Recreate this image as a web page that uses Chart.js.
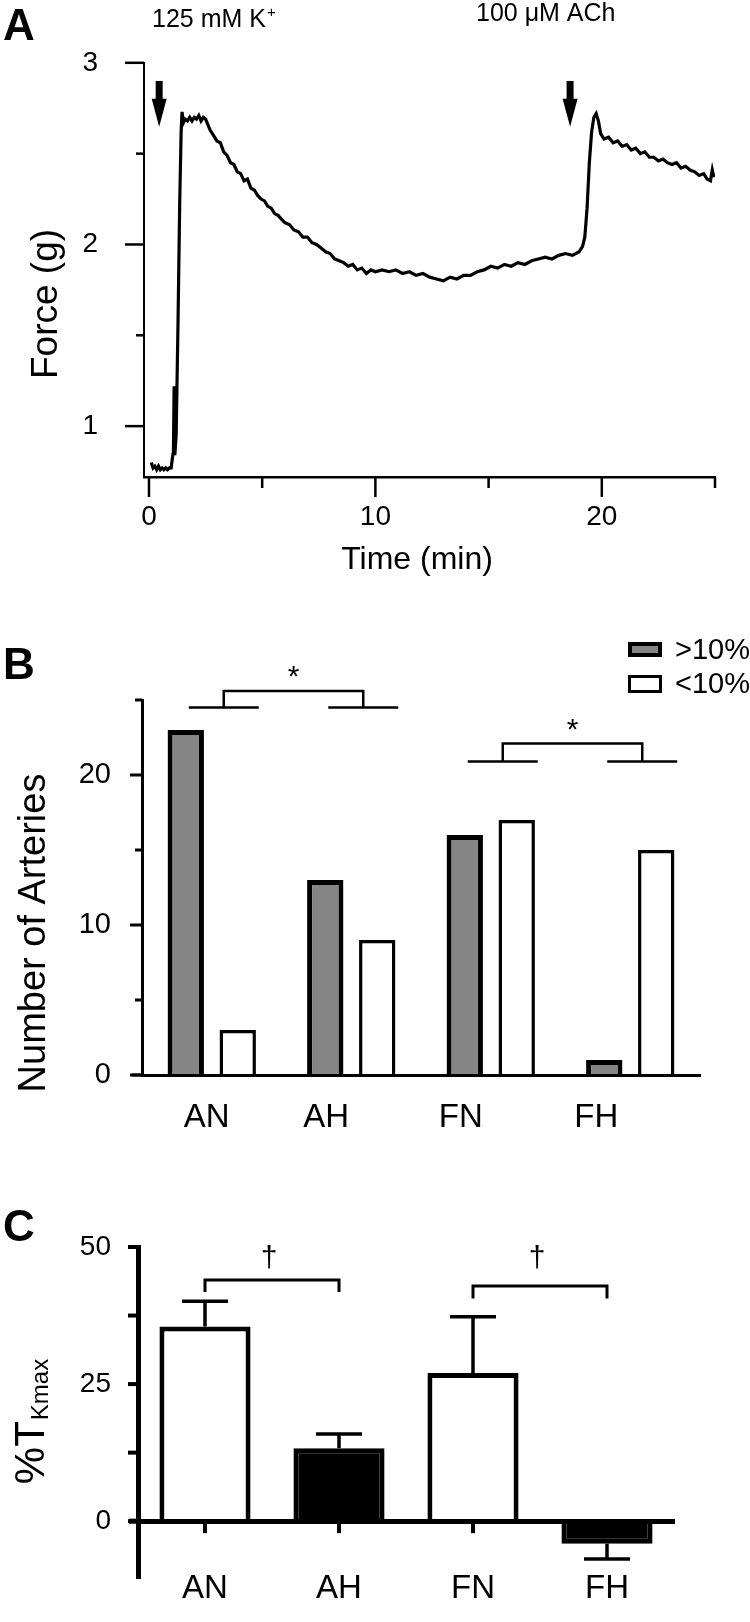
<!DOCTYPE html>
<html>
<head>
<meta charset="utf-8">
<script src="https://cdn.jsdelivr.net/npm/chart.js@4.4.1/dist/chart.umd.min.js"></script>
<style>
  html, body { margin: 0; padding: 0; background: #fff; }
  #wrap { position: relative; width: 750px; height: 1622px; overflow: hidden; }
  canvas { position: absolute; left: 0; }
</style>
</head>
<body>
<div id="wrap">
  <canvas id="chartA" width="750" height="600" style="top:0px"></canvas>
  <canvas id="chartB" width="750" height="540" style="top:600px"></canvas>
  <canvas id="chartC" width="750" height="482" style="top:1140px"></canvas>
</div>
<script>
// Panel A: force trace
const timeMin = [0.10,0.18,0.26,0.34,0.42,0.50,0.58,0.66,0.74,0.82,0.90,0.98,1.04,1.08,1.11,1.14,1.20,1.28,1.36,1.42,1.46,1.52,1.60,1.70,1.80,1.90,2.00,2.10,2.20,2.30,2.40,2.50,2.60,2.70,2.85,3.00,3.15,3.30,3.45,3.60,3.75,3.90,4.05,4.20,4.35,4.50,4.65,4.80,4.95,5.10,5.25,5.40,5.55,5.70,5.85,6.00,6.20,6.40,6.60,6.80,7.00,7.20,7.40,7.60,7.80,8.00,8.20,8.40,8.60,8.80,9.00,9.20,9.40,9.60,9.80,10.0,10.3,10.6,10.9,11.2,11.5,11.8,12.1,12.4,12.7,13.0,13.3,13.6,13.9,14.2,14.5,14.8,15.1,15.4,15.7,16.0,16.3,16.6,16.9,17.2,17.5,17.8,18.1,18.4,18.7,19.0,19.15,19.25,19.35,19.45,19.55,19.65,19.75,19.85,19.95,20.10,20.30,20.50,20.70,20.90,21.10,21.30,21.50,21.70,21.90,22.10,22.30,22.50,22.70,22.90,23.10,23.30,23.50,23.70,23.90,24.10,24.30,24.50,24.65,24.80,24.88,24.95];
const forceG = [0.80,0.77,0.78,0.76,0.78,0.76,0.77,0.76,0.77,0.76,0.77,0.77,0.83,0.86,1.22,0.84,0.95,1.55,2.25,2.62,2.73,2.67,2.69,2.68,2.70,2.68,2.70,2.69,2.71,2.68,2.70,2.69,2.66,2.63,2.60,2.57,2.56,2.51,2.49,2.45,2.44,2.40,2.39,2.35,2.36,2.31,2.30,2.27,2.25,2.24,2.21,2.20,2.17,2.16,2.14,2.12,2.11,2.08,2.07,2.04,2.04,2.01,2.00,1.98,1.96,1.95,1.92,1.91,1.90,1.88,1.89,1.86,1.87,1.84,1.86,1.85,1.86,1.85,1.86,1.84,1.85,1.83,1.84,1.82,1.81,1.80,1.82,1.81,1.83,1.83,1.85,1.86,1.88,1.87,1.89,1.88,1.90,1.89,1.91,1.92,1.93,1.92,1.94,1.95,1.94,1.96,1.99,2.04,2.20,2.45,2.62,2.70,2.72,2.68,2.61,2.58,2.59,2.56,2.57,2.54,2.55,2.52,2.53,2.50,2.51,2.48,2.48,2.46,2.47,2.45,2.44,2.45,2.42,2.43,2.41,2.40,2.38,2.39,2.36,2.35,2.41,2.37];
const aTicksX = [0, 5, 10, 15, 20, 25];
const aLabelsX = [0, 10, 20];
const aTicksY = [1, 1.5, 2, 2.5, 3];
const aLabelsY = [1, 2, 3];
const arrowTimes = [0.45, 18.6];

// Panel B: number of arteries
const groups = ["AN", "AH", "FN", "FH"];
const above10 = [23, 13, 16, 1];
const below10 = [3, 9, 17, 15];
const bTicksY = [0, 5, 10, 15, 20, 25];
const bLabelsY = [0, 10, 20];
const bBrackets = [{ from: 0, to: 1, base: 24.5, top: 25.6 }, { from: 2, to: 3, base: 20.9, top: 22.1 }];

// Panel C: %TKmax, mean and SEM
const cMean = [35.5, 13.3, 27.0, -4.1];
const cSem = [4.6, 2.6, 10.3, 2.8];
const cFill = ["#ffffff", "#000000", "#ffffff", "#000000"];
const cTicksY = [0, 12.5, 25, 37.5, 50];
const cLabelsY = [0, 25, 50];
const cBrackets = [{ from: 0, to: 1, drop: 41.8, top: 44.0 }, { from: 2, to: 3, drop: 40.6, top: 42.9 }];

const FONT = "'Liberation Sans', Arial, sans-serif";
Chart.defaults.font.family = FONT;
Chart.defaults.color = "#000";

function line(ctx, x1, y1, x2, y2) {
  ctx.beginPath(); ctx.moveTo(x1, y1); ctx.lineTo(x2, y2); ctx.stroke();
}

function drawArrow(ctx, x, yTop, yTip) {
  const headLen = 28;
  ctx.fillRect(x - 3.5, yTop, 7, yTip - headLen - yTop + 1);
  ctx.beginPath();
  ctx.moveTo(x - 7.5, yTip - headLen);
  ctx.lineTo(x + 7.5, yTip - headLen);
  ctx.lineTo(x, yTip);
  ctx.closePath();
  ctx.fill();
}

function vText(ctx, text, x, y, font) {
  ctx.save();
  ctx.translate(x, y);
  ctx.rotate(-Math.PI / 2);
  ctx.font = font;
  ctx.textAlign = "center";
  ctx.textBaseline = "alphabetic";
  ctx.fillText(text, 0, 0);
  ctx.restore();
}

const panelA = {
  id: "panelA",
  afterDraw(chart) {
    const { ctx, scales: { x, y } } = chart;
    ctx.save();
    ctx.fillStyle = "#000";
    ctx.strokeStyle = "#000";
    ctx.lineWidth = 2.5;
    aTicksY.forEach(v => {
      const p = y.getPixelForValue(v);
      line(ctx, y.right - (aLabelsY.includes(v) ? 19 : 8), p, y.right, p);
    });
    aTicksX.forEach(v => {
      const p = x.getPixelForValue(v);
      line(ctx, p, x.top, p, x.top + (aLabelsX.includes(v) ? 20 : 11));
    });
    arrowTimes.forEach(t => drawArrow(ctx, x.getPixelForValue(t), y.getPixelForValue(2.9), y.getPixelForValue(2.648)));

    ctx.textAlign = "left";
    ctx.textBaseline = "alphabetic";
    ctx.font = "bold 44px " + FONT;
    ctx.fillText("A", 3, 40);
    ctx.font = "25px " + FONT;
    ctx.fillText("125 mM K", 152, 27);
    const w = ctx.measureText("125 mM K").width;
    ctx.font = "15px " + FONT;
    ctx.fillText("+", 152 + w + 1, 17);
    ctx.font = "25px " + FONT;
    ctx.fillText("100 \u03bcM ACh", 476, 21);
    vText(ctx, "Force (g)", 57, 304, "37px " + FONT);
    ctx.textAlign = "center";
    ctx.font = "32px " + FONT;
    ctx.fillText("Time (min)", 417, 569);
    ctx.restore();
  }
};

const panelB = {
  id: "panelB",
  afterDraw(chart) {
    const { ctx, scales: { x, y } } = chart;
    ctx.save();
    ctx.fillStyle = "#000";
    ctx.strokeStyle = "#000";
    ctx.lineWidth = 3;
    bTicksY.forEach(v => {
      const p = y.getPixelForValue(v);
      line(ctx, y.right - (bLabelsY.includes(v) ? 12 : 7), p, y.right, p);
    });
    line(ctx, x.left - 10, y.getPixelForValue(0), x.left, y.getPixelForValue(0));

    // category labels
    const shift = [-5, -25, -30, -34];
    ctx.font = "33px " + FONT;
    ctx.textAlign = "center";
    ctx.textBaseline = "alphabetic";
    groups.forEach((g, i) => ctx.fillText(g, x.getPixelForValue(i) + shift[i], 527));

    // significance brackets
    ctx.lineWidth = 2.5;
    bBrackets.forEach(b => {
      const xa = x.getPixelForValue(b.from) + 12, xb = x.getPixelForValue(b.to) + 12;
      const yb = y.getPixelForValue(b.base), yt = y.getPixelForValue(b.top);
      line(ctx, xa - 35, yb, xa + 35, yb);
      line(ctx, xb - 35, yb, xb + 35, yb);
      ctx.beginPath();
      ctx.moveTo(xa, yb); ctx.lineTo(xa, yt); ctx.lineTo(xb, yt); ctx.lineTo(xb, yb);
      ctx.stroke();
      ctx.font = "30px " + FONT;
      ctx.fillText("*", (xa + xb) / 2, yt - 22 + 0.58 * 30);
    });

    // legend
    const ds = chart.data.datasets;
    const boxes = [[628, 42, 34, 15], [628, 75, 34, 18]];
    ds.forEach((d, i) => {
      const [bx, by, bw, bh] = boxes[i];
      ctx.fillStyle = d.backgroundColor;
      ctx.fillRect(bx, by, bw, bh);
      ctx.lineWidth = i === 0 ? 4 : 3;
      ctx.strokeRect(bx + ctx.lineWidth / 2, by + ctx.lineWidth / 2, bw - ctx.lineWidth, bh - ctx.lineWidth);
      ctx.fillStyle = "#000";
      ctx.font = "29px " + FONT;
      ctx.textAlign = "left";
      ctx.textBaseline = "middle";
      ctx.fillText(d.label, 675, by + bh / 2 + 1);
    });

    ctx.textAlign = "left";
    ctx.textBaseline = "alphabetic";
    ctx.font = "bold 44px " + FONT;
    ctx.fillText("B", 3, 79);
    vText(ctx, "Number of Arteries", 45, 333, "38px " + FONT);
    ctx.restore();
  }
};

const panelC = {
  id: "panelC",
  afterDraw(chart) {
    const { ctx, scales: { x, y } } = chart;
    const y0 = y.getPixelForValue(0);
    ctx.save();
    ctx.fillStyle = "#000";
    ctx.strokeStyle = "#000";
    ctx.lineWidth = 4;
    cTicksY.forEach(v => {
      const p = y.getPixelForValue(v);
      line(ctx, y.right - 10, p, y.right, p);
    });
    groups.forEach((g, i) => {
      const p = x.getPixelForValue(i);
      line(ctx, p, y0, p, y0 + 12);
    });
    ctx.lineWidth = 5;
    line(ctx, x.left - 9, y0, x.left, y0);

    // error bars (one-sided)
    ctx.lineWidth = 3.5;
    cMean.forEach((m, i) => {
      const px = x.getPixelForValue(i);
      const end = m + Math.sign(m) * cSem[i];
      const pe = y.getPixelForValue(end);
      line(ctx, px, y.getPixelForValue(m), px, pe);
      line(ctx, px - 23, pe, px + 23, pe);
    });

    // brackets with daggers
    ctx.lineWidth = 3;
    ctx.textAlign = "center";
    ctx.textBaseline = "alphabetic";
    cBrackets.forEach(b => {
      const xa = x.getPixelForValue(b.from), xb = x.getPixelForValue(b.to);
      const yd = y.getPixelForValue(b.drop), yt = y.getPixelForValue(b.top);
      ctx.beginPath();
      ctx.moveTo(xa, yd); ctx.lineTo(xa, yt); ctx.lineTo(xb, yt); ctx.lineTo(xb, yd);
      ctx.stroke();
      ctx.font = "30px " + FONT;
      ctx.fillText("\u2020", (xa + xb) / 2 - 3, y.getPixelForValue(46.4));
    });

    ctx.textAlign = "left";
    ctx.font = "bold 44px " + FONT;
    ctx.fillText("C", 3, 101);

    // %T with subscript Kmax, rotated
    ctx.save();
    ctx.translate(44, 282);
    ctx.rotate(-Math.PI / 2);
    ctx.font = "42px " + FONT;
    const w1 = ctx.measureText("%T").width;
    ctx.font = "24px " + FONT;
    const w2 = ctx.measureText("Kmax").width;
    const start = -(w1 + w2) / 2;
    ctx.font = "42px " + FONT;
    ctx.fillText("%T", start, 0);
    ctx.font = "24px " + FONT;
    ctx.fillText("Kmax", start + w1 + 1, 4);
    ctx.restore();
    ctx.restore();
  }
};

// Panel A
new Chart(document.getElementById("chartA"), {
  type: "line",
  data: {
    datasets: [{
      data: timeMin.map((t, i) => ({ x: t, y: forceG[i] })),
      borderColor: "#000",
      borderWidth: 3.2,
      pointRadius: 0,
      tension: 0,
      fill: false
    }]
  },
  options: {
    responsive: false,
    animation: false,
    events: [],
    layout: { padding: { left: 0, top: 23, right: 35, bottom: 0 }, autoPadding: false },
    plugins: { legend: { display: false }, tooltip: { enabled: false } },
    scales: {
      x: {
        type: "linear", min: -0.22, max: 25,
        grid: { display: false, drawTicks: false },
        border: { display: true, width: 2.5, color: "#000" },
        afterBuildTicks: s => { s.ticks = aTicksX.map(v => ({ value: v })); },
        afterFit: s => { s.height = 123; },
        ticks: { padding: 23, maxRotation: 0, autoSkip: false, font: { size: 28 },
          callback: v => aLabelsX.includes(v) ? String(v) : "" }
      },
      y: {
        min: 0.72, max: 3,
        grid: { display: false, drawTicks: false },
        border: { display: true, width: 2, color: "#000" },
        afterBuildTicks: s => { s.ticks = aTicksY.map(v => ({ value: v })); },
        afterFit: s => { s.width = 144; },
        ticks: { padding: 46, autoSkip: false, font: { size: 28 },
          callback: v => aLabelsY.includes(v) ? String(v) : "" }
      }
    }
  },
  plugins: [panelA]
});

// Panel B
new Chart(document.getElementById("chartB"), {
  type: "bar",
  data: {
    labels: groups,
    datasets: [
      { label: ">10%", data: above10, backgroundColor: "#858585", borderColor: "#000", borderWidth: 5,
        barPercentage: 0.7, categoryPercentage: 0.745 },
      { label: "<10%", data: below10, backgroundColor: "#ffffff", borderColor: "#000", borderWidth: 3.5,
        barPercentage: 0.7, categoryPercentage: 0.745 }
    ]
  },
  options: {
    responsive: false,
    animation: false,
    events: [],
    layout: { padding: { left: 0, top: 100, right: 50, bottom: 0 }, autoPadding: false },
    plugins: { legend: { display: false }, tooltip: { enabled: false } },
    scales: {
      x: {
        grid: { display: false, drawTicks: false },
        border: { display: true, width: 3, color: "#000", z: 1 },
        ticks: { display: false },
        afterFit: s => { s.height = 65; }
      },
      y: {
        min: 0, max: 25,
        grid: { display: false, drawTicks: false },
        border: { display: true, width: 3, color: "#000" },
        afterBuildTicks: s => { s.ticks = bTicksY.map(v => ({ value: v })); },
        afterFit: s => { s.width = 142; },
        ticks: { padding: 31, autoSkip: false, font: { size: 29 },
          callback: v => bLabelsY.includes(v) ? String(v) : "" }
      }
    }
  },
  plugins: [panelB]
});

// Panel C
new Chart(document.getElementById("chartC"), {
  type: "bar",
  data: {
    labels: groups,
    datasets: [{
      data: cMean,
      backgroundColor: cFill,
      borderColor: "#000",
      borderWidth: 5,
      barPercentage: 0.68,
      categoryPercentage: 1
    }]
  },
  options: {
    responsive: false,
    animation: false,
    events: [],
    layout: { padding: { left: 0, top: 107, right: 76, bottom: 20 }, autoPadding: false },
    plugins: { legend: { display: false }, tooltip: { enabled: false } },
    scales: {
      x: {
        position: { y: 0 },
        grid: { display: false, drawTicks: false },
        border: { display: true, width: 5, color: "#000", z: 1 },
        ticks: { padding: 48, font: { size: 33 }, maxRotation: 0 }
      },
      y: {
        min: -10.4, max: 50,
        grid: { display: false, drawTicks: false },
        border: { display: true, width: 5, color: "#000" },
        afterBuildTicks: s => { s.ticks = cTicksY.map(v => ({ value: v })); },
        afterFit: s => { s.width = 138; },
        ticks: { padding: 27, autoSkip: false, font: { size: 28 },
          callback: v => cLabelsY.includes(v) ? String(v) : "" }
      }
    }
  },
  plugins: [panelC]
});
</script>
</body>
</html>
